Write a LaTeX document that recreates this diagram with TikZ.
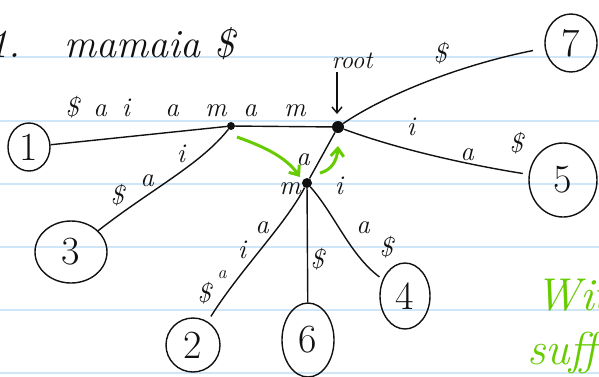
\documentclass[tikz,border=0pt]{standalone}
\usepackage{fontspec}
\usetikzlibrary{shapes.geometric, arrows.meta}
\definecolor{penInk}{HTML}{111111}
\definecolor{penGreen}{HTML}{66CC00}
\definecolor{paperRule}{HTML}{CFE6F8}

\begin{document}
\begin{tikzpicture}[x=1pt, y=-1pt,
        leaf/.style={draw=penInk, ellipse, line width=1.4pt, inner sep=0pt, text=penInk, font=\fontsize{40}{40}\selectfont},
        inner/.style={circle, fill=penInk, inner sep=0pt, minimum size=8pt},
        edge/.style={penInk, line width=1.4pt},
        lbl/.style={text=penInk, inner sep=0pt, font=\itshape\fontsize{27}{27}\selectfont},
        hint/.style={-{Straight Barb[length=8pt, width=13pt]}, penGreen, line width=3pt},
        rule/.style={paperRule, line width=1.5pt}]
        \useasboundingbox (0,0) rectangle (599,376);
        \clip (0,0) rectangle (599,376);
        \fill[white] (0,0) rectangle (599,376);
        \foreach \y in {57,121,184,247,310,373}
          \draw[rule] (0,\y) -- (599,\y);
        % title
        \node[lbl, anchor=base west, font=\itshape\fontsize{40}{40}\selectfont] (num) at (-12,57) {1.};
        \node[lbl, anchor=base west, font=\itshape\fontsize{40}{40}\selectfont] (word) at (64,57) {mamaia \$};
        % tree nodes
        \node[inner, minimum size=12pt] (root) at (338,127) {};
        \node[inner] (A) at (231,126) {};
        \node[inner, minimum size=10pt] (B) at (307,183) {};
        \node[lbl, anchor=base, font=\itshape\fontsize{25}{25}\selectfont] (rt) at (352,68) {root};
        \coordinate (rtend) at (337,114);
        \draw[-{Straight Barb[length=6pt, width=10pt]}, edge] (rt.south -| rtend) ++(0,4) -- (rtend);
        % leaves
        \node[leaf, minimum width=42pt, minimum height=48pt] (l1) at (29,147) {1};
        \node[leaf, minimum width=72pt, minimum height=62pt] (l3) at (71,252) {3};
        \node[leaf, minimum width=54pt, minimum height=54pt] (l2) at (193,345) {2};
        \node[leaf, minimum width=52pt, minimum height=74pt] (l6) at (308,340) {6};
        \node[leaf, minimum width=50pt, minimum height=66pt] (l4) at (405,296) {4};
        \node[leaf, minimum width=68pt, minimum height=74pt] (l5) at (563,180) {5};
        \node[leaf, minimum width=52pt, minimum height=58pt] (l7) at (571,43) {7};
        % edges
        \draw[edge] (l1) -- (A);
        \draw[edge] (A) -- (root);
        \draw[edge] (A) .. controls (200,165) and (150,190) .. (l3);
        \draw[edge, shorten >=12pt] (root) .. controls (385,95) and (460,65) .. (l7);
        \draw[edge, shorten >=6pt] (root) .. controls (400,150) and (470,165) .. (l5);
        \draw[edge] (root) -- (B);
        \draw[edge, shorten >=6pt] (B) .. controls (285,225) and (240,270) .. (l2);
        \draw[edge] (B) -- (l6);
        \draw[edge, shorten >=4pt] (B) .. controls (335,215) and (350,255) .. (l4);
        % edge labels
        \foreach \x/\t in {72/\$, 100/a, 126/i, 172/a, 216/m, 250/a, 295/m}
          \node[lbl, anchor=base] at (\x,116) {\t};
        \node[lbl, anchor=base] at (440,62) {\$};
        \node[lbl, anchor=base] at (411,135) {i};
        \node[lbl, anchor=base] at (467,160) {a};
        \node[lbl, anchor=base] at (516,152) {\$};
        \node[lbl, anchor=base] at (181,162) {i};
        \node[lbl, anchor=base] at (147,186) {a};
        \node[lbl, anchor=base] at (117,204) {\$};
        \node[lbl, anchor=base] at (303,165) {a};
        \node[lbl, anchor=base] at (290,194) {m};
        \node[lbl, anchor=base] at (339,194) {i};
        \node[lbl, anchor=base] at (262,233) {a};
        \node[lbl, anchor=base] at (242,258) {i};
        \node[lbl, anchor=base, font=\itshape\fontsize{18}{18}\selectfont] at (222,278) {a};
        \node[lbl, anchor=base] at (204,302) {\$};
        \node[lbl, anchor=base] at (317,268) {\$};
        \node[lbl, anchor=base] at (363,233) {a};
        \node[lbl, anchor=base] at (386,256) {\$};
        % green hints
        \coordinate (g1) at (237,137);
        \coordinate (g2) at (300,177);
        \coordinate (g3) at (320,173);
        \coordinate (g4) at (338,146);
        \draw[hint] (g1) .. controls (262,146) and (285,156) .. (g2);
        \draw[hint] (g3) .. controls (332,170) and (337,160) .. (g4);
        \node[anchor=base west, text=penGreen, inner sep=0pt, font=\itshape\fontsize{46}{46}\selectfont] (note1) at (535,310) {Wit};
        \node[anchor=base west, text=penGreen, inner sep=0pt, font=\itshape\fontsize{46}{46}\selectfont] (note2) at (527,364) {suff};
      \end{tikzpicture}
\end{document}
